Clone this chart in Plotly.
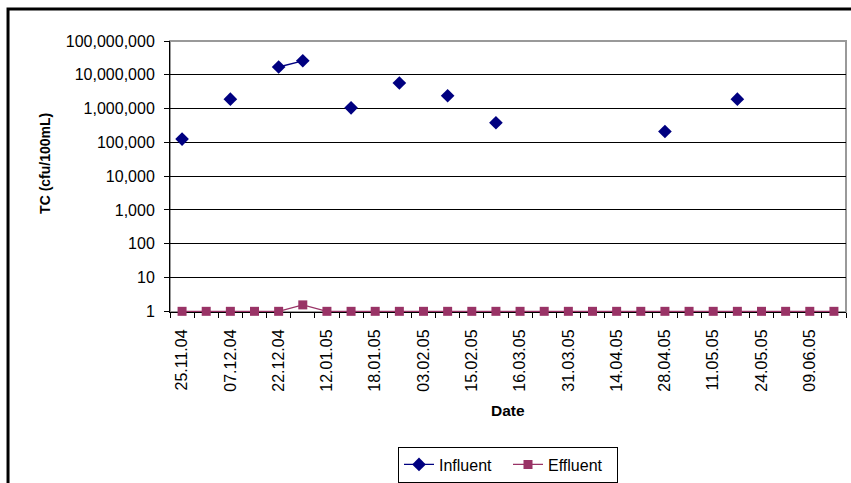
import plotly.graph_objects as go

# Sample number (one per sampling date), labels shown on every other sample
samples = [1, 2, 3, 4, 5, 6, 7, 8, 9, 10, 11, 12, 13, 14,
           15, 16, 17, 18, 19, 20, 21, 22, 23, 24, 25, 26, 27, 28]
label_samples = [1, 3, 5, 7, 9, 11, 13, 15, 17, 19, 21, 23, 25, 27]
date_labels = ["25.11.04", "07.12.04", "22.12.04", "12.01.05", "18.01.05",
               "03.02.05", "15.02.05", "16.03.05", "31.03.05", "14.04.05",
               "28.04.05", "11.05.05", "24.05.05", "09.06.05"]

influent = [125000, None, 1900000, None, 17000000, 26000000, None, 1050000,
            None, 5700000, None, 2400000, None, 380000, None, None, None, None,
            None, None, 210000, None, None, 1900000, None, None, None, None]
effluent = [1, 1, 1, 1, 1, 1.55, 1, 1, 1, 1, 1, 1, 1, 1,
            1, 1, 1, 1, 1, 1, 1, 1, 1, 1, 1, 1, 1, 1]

y_tickvals = [1, 10, 100, 1000, 10000, 100000, 1000000, 10000000, 100000000]
y_ticktext = ["1", "10", "100", "1,000", "10,000", "100,000", "1,000,000",
              "10,000,000", "100,000,000"]

FONT = "Liberation Sans, Arial, sans-serif"

fig = go.Figure()
fig.add_trace(go.Scatter(
    x=samples, y=influent, name="Influent", mode="lines+markers",
    connectgaps=False, cliponaxis=False,
    line=dict(color="#000080", width=1.3),
    marker=dict(symbol="diamond", size=10.5, color="#000080"),
))
fig.add_trace(go.Scatter(
    x=samples, y=effluent, name="Effluent", mode="lines+markers",
    cliponaxis=False,
    line=dict(color="#993366", width=1.3),
    marker=dict(symbol="square", size=9, color="#993366"),
))

boundaries = [s - 0.5 for s in samples] + [samples[-1] + 0.5]

fig.update_layout(
    width=851, height=483,
    margin=dict(l=170, r=5, t=41, b=171, autoexpand=False),
    paper_bgcolor="white", plot_bgcolor="white",
    font=dict(family=FONT, size=16, color="black"),
    showlegend=True,
    legend=dict(orientation="h", x=0.5, xanchor="center",
                yref="container", y=1 - 464.5 / 483, yanchor="middle",
                bordercolor="black", borderwidth=1,
                font=dict(size=16), entrywidth=64, entrywidthmode="pixels",
                tracegroupgap=0),
    xaxis=dict(
        range=[0.5, 28.5], tickmode="array", tickvals=label_samples,
        ticktext=date_labels, tickangle=-90, ticks="",
        ticklabelstandoff=10, layer="below traces", automargin=False,
        showgrid=False, zeroline=False, showline=True, linecolor="black",
        linewidth=1,
        minor=dict(tickmode="array", tickvals=boundaries, ticks="outside",
                   ticklen=5, tickcolor="black", showgrid=False),
        tickfont=dict(size=16),
    ),
    yaxis=dict(
        type="log", range=[-0.02, 8], tickmode="array", tickvals=y_tickvals,
        ticktext=y_ticktext, ticks="outside", ticklen=5, tickcolor="black",
        showgrid=True, gridcolor="black", gridwidth=1, zeroline=False,
        showline=True, linecolor="black", linewidth=1, layer="below traces",
        ticklabelstandoff=6, tickfont=dict(size=16), automargin=False,
    ),
    shapes=[
        dict(type="rect", xref="paper", yref="paper", x0=0, x1=1, y0=0, y1=1,
             line=dict(color="#999999", width=2), layer="below"),
        dict(type="rect", xref="paper", yref="paper", x0=-0.2396, x1=1.5,
             y0=-1.5, y1=1.118, line=dict(color="black", width=3)),
    ],
    annotations=[
        dict(text="<b>TC (cfu/100mL)</b>", xref="paper", yref="paper",
             x=-0.185, y=0.55, textangle=-90, showarrow=False,
             font=dict(size=14), xanchor="center", yanchor="middle"),
        dict(text="<b>Date</b>", xref="paper", yref="paper", x=0.5,
             y=-0.365, showarrow=False, font=dict(size=15.5),
             xanchor="center", yanchor="middle"),
    ],
)

fig.write_html("out.html", config={"displayModeBar": False},
               post_script="document.body.style.margin='0px';")
